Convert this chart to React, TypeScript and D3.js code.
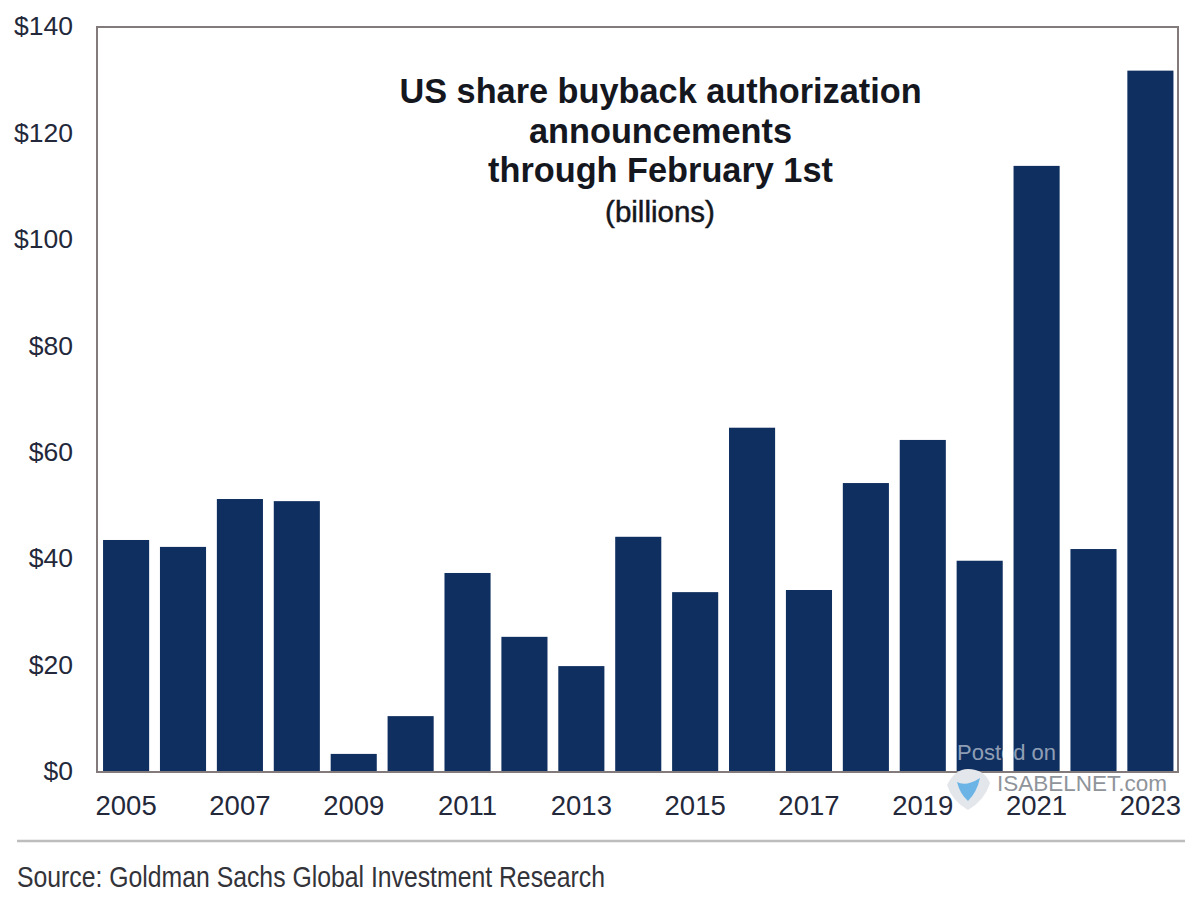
import React from "react";
import * as d3 from "d3";

const years = [2005,2006,2007,2008,2009,2010,2011,2012,2013,2014,2015,2016,2017,2018,2019,2020,2021,2022,2023];
const buybacks = [43.6,42.3,51.3,50.9,3.4,10.5,37.4,25.4,19.9,44.2,33.8,64.7,34.2,54.3,62.4,39.7,113.9,41.9,131.8];
const yTicks = [0,20,40,60,80,100,120,140];
const titleLines = ["US share buyback authorization","announcements","through February 1st"];
const subtitle = "(billions)";
const source = "Source: Goldman Sachs Global Investment Research";

const W = 1200, H = 900;
const L = 97, R = 1178, T = 27, B = 772;
const sans = "'Liberation Sans', Arial, sans-serif";
const ink = "#23283a";

export default function App() {
  const x = d3.scaleBand<number>().domain(years).range([L + 1.5, R]).paddingInner(0.19).paddingOuter(0.08);
  const y = d3.scaleLinear().domain([0, 140]).range([B, T]);
  return (
    <svg width={W} height={H} viewBox={`0 0 ${W} ${H}`}
      style={{ position: "absolute", left: 0, top: 0, display: "block", background: "#fff" }}>
      <g>
        {years.map((yr, i) => (
          <rect key={yr} x={x(yr)} y={y(buybacks[i])} width={x.bandwidth()} height={B - y(buybacks[i])} fill="#0f2f60" />
        ))}
      </g>
      <path d={`M${L},${B}V${T}H${R}V${B}Z`} fill="none" stroke="#837b7b" strokeWidth={2} />
      <g fontFamily={sans} fill={ink}>
        {yTicks.map(t => (
          <text key={t} x={73} y={y(t) - 1} dy="0.35em" textAnchor="end" fontSize={26.5}>{`$${t}`}</text>
        ))}
        {years.filter((_, i) => i % 2 === 0).map(yr => (
          <text key={yr} x={x(yr)! + x.bandwidth() / 2} y={815} textAnchor="middle" fontSize={27.5}>{yr}</text>
        ))}
      </g>
      <g fontFamily={sans} textAnchor="middle" fill="#15171f">
        {titleLines.map((line, i) => (
          <text key={line} x={660.5} y={103 + i * 39.5} fontSize={34.3} fontWeight={700}>{line}</text>
        ))}
        <text x={660} y={222} fontSize={29.5} fontWeight={400} stroke="#15171f" strokeWidth={0.5}>{subtitle}</text>
      </g>
      <line x1={17} x2={1185} y1={841} y2={841} stroke="#bdbdbd" strokeWidth={2.5} />
      <text x={17} y={887} fontFamily={sans} fontSize={30} fill="#33333a" textLength={588} lengthAdjust="spacingAndGlyphs">{source}</text>
      <g fontFamily={sans}>
        <text x={957} y={760} fontSize={22} fill="#ffffff" fillOpacity={0.55}>Posted on</text>
        <text x={997} y={791} fontSize={22.5} fill="#8f949b">ISABELNET.com</text>
        <path d="M947,785 Q955,769 968,769 Q984,769 990,783 Q985,800 968,810 Q952,801 947,785Z" fill="#e3e6ea" />
        <path d="M957,782 Q966,787 980,778 Q977,792 968,801 Q960,794 957,782Z" fill="#6db4e6" />
      </g>
    </svg>
  );
}
